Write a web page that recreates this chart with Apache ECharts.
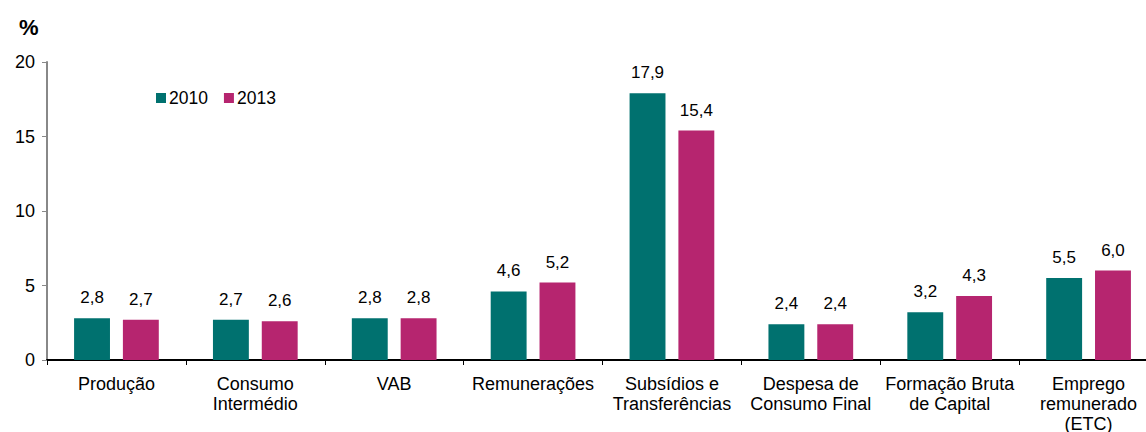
<!DOCTYPE html>
<html>
<head>
<meta charset="utf-8">
<script src="https://cdn.jsdelivr.net/npm/echarts@6/dist/echarts.min.js"></script>
<style>
  html, body { margin: 0; padding: 0; background: #fff; overflow: hidden; }
  #chart { width: 1146px; height: 432px; }
</style>
</head>
<body>
<div id="chart"></div>
<script>
// data
var categories = ['Produção', 'Consumo\nIntermédio', 'VAB', 'Remunerações', 'Subsídios e\nTransferências',
  'Despesa de\nConsumo Final', 'Formação Bruta\nde Capital', 'Emprego\nremunerado\n(ETC)'];
var values2010 = [2.8, 2.7, 2.8, 4.6, 17.9, 2.4, 3.2, 5.5];
var values2013 = [2.7, 2.6, 2.8, 5.2, 15.4, 2.4, 4.3, 6.0];
var yTicks = [0, 5, 10, 15, 20];

var font = "'Liberation Sans', Arial, sans-serif";

function GenerateChart() {
	var chart = echarts.init(document.getElementById('chart'), null, {renderer: 'svg'});

	var labelOpt = {
		show: true,
		position: 'top',
		distance: 12,
		color: '#000',
		fontFamily: font,
		fontSize: 17,
		formatter: function (p) { return p.value.toFixed(1).replace('.', ','); }
	};

	chart.setOption({
		animation: false,
		title: {
			text: '%',
			left: 14,
			top: 11,
			textStyle: { fontFamily: font, fontSize: 22, fontWeight: 'bold', color: '#000' }
		},
		legend: {
			left: 151,
			top: 84,
			itemWidth: 10,
			itemHeight: 10,
			itemGap: 16,
			icon: 'rect',
			textStyle: { fontFamily: font, fontSize: 17.5, color: '#000', padding: [0, 0, 0, -2] },
			data: ['2010', '2013']
		},
		// the plot runs past the right edge of the picture, as in the source
		grid: { left: 47, top: 62, width: 1111, height: 298, outerBoundsMode: 'none', containLabel: false },
		xAxis: {
			type: 'category',
			data: categories,
			axisLine: { lineStyle: { color: '#000', width: 2 } },
			axisTick: { show: true, length: 5, lineStyle: { color: '#000' } },
			axisLabel: {
				color: '#000', fontFamily: font, fontSize: 18, lineHeight: 20,
				margin: 14, interval: 0
			}
		},
		yAxis: {
			type: 'value',
			min: yTicks[0],
			max: yTicks[yTicks.length - 1],
			interval: 5,
			axisLine: { show: true, lineStyle: { color: '#888', width: 2 } },
			axisTick: { show: true, length: 5, lineStyle: { color: '#888' } },
			splitLine: { show: false },
			axisLabel: { color: '#000', fontFamily: font, fontSize: 18, margin: 12 }
		},
		series: [
			{
				name: '2010',
				type: 'bar',
				data: values2010,
				barGap: '36%',
				barCategoryGap: '39%',
				itemStyle: { color: '#00716F' },
				label: labelOpt
			},
			{
				name: '2013',
				type: 'bar',
				data: values2013,
				itemStyle: { color: '#B6256F' },
				label: labelOpt
			}
		]
	});
}

GenerateChart();
</script>
</body>
</html>
